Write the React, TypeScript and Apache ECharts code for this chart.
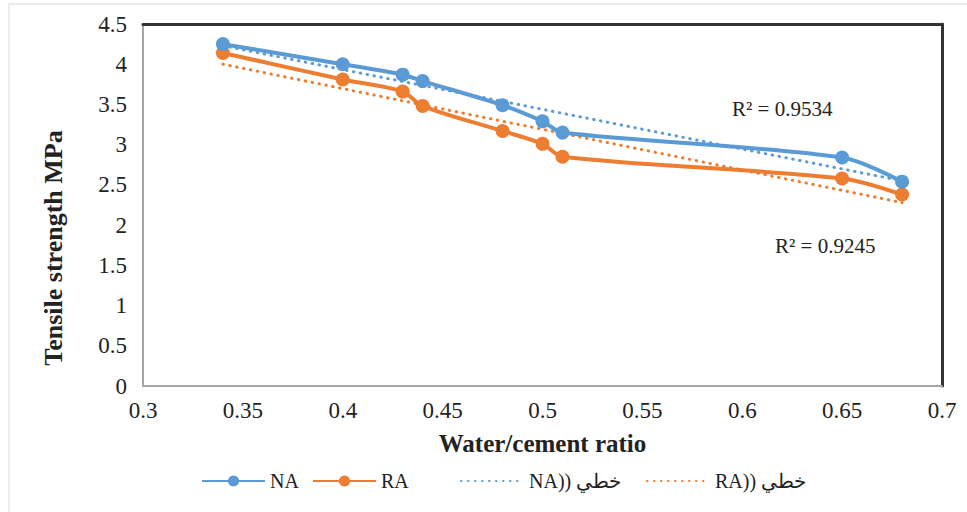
import React, { useEffect, useRef } from "react";
import * as echarts from "echarts";

const ratios = [0.34, 0.4, 0.43, 0.44, 0.48, 0.5, 0.51, 0.65, 0.68];
const naValues = [4.25, 4.0, 3.87, 3.79, 3.49, 3.29, 3.15, 2.84, 2.54];
const raValues = [4.14, 3.81, 3.66, 3.48, 3.17, 3.01, 2.85, 2.58, 2.38];
const trendX = [0.34, 0.68];
const naTrend = [4.23, 2.55];
const raTrend = [4.0, 2.28];
const seriesNames = ["NA", "RA", "NA)) خطي", "RA)) خطي"];
const r2Labels = ["R² = 0.9534", "R² = 0.9245"];

const BLUE = "#5B9BD5";
const ORANGE = "#ED7D31";
const FONT = "Liberation Serif";

export default function App() {
  const ref = useRef<HTMLDivElement>(null);
  useEffect(() => {
    if (!ref.current) return;
    const chart = echarts.init(ref.current, undefined, { renderer: "svg" });
    const pairs = (xs: number[], ys: number[]) => xs.map((x, i) => [x, ys[i]]);
    const legendBase = (name: string, left: number, hideSymbol: boolean) => ({
      data: [name],
      left,
      top: 466,
      itemWidth: 63,
      itemHeight: 14,
      itemGap: 5,
      textStyle: { fontFamily: FONT, fontSize: 20, color: "#222" },
      selectedMode: false,
      ...(hideSymbol ? { itemStyle: { opacity: 0 } } : {}),
    });
    chart.setOption({
      animation: false,
      backgroundColor: "#fff",
      textStyle: { fontFamily: FONT },
      grid: { left: 143, right: 25, top: 24, bottom: 126 },
      xAxis: [
        {
          type: "value",
          min: 0.3,
          max: 0.7,
          interval: 0.05,
          axisLine: { show: true, lineStyle: { color: "#a6a6a6", width: 2 } },
          axisTick: { show: false },
          splitLine: { show: false },
          axisLabel: { fontFamily: FONT, fontSize: 23, color: "#222", margin: 13 },
          name: "Water/cement ratio",
          nameLocation: "middle",
          nameGap: 45,
          nameTextStyle: { fontFamily: FONT, fontSize: 25, fontWeight: "bold", color: "#222" },
        },
        {
          type: "value",
          position: "top",
          min: 0.3,
          max: 0.7,
          axisLine: { show: true, onZero: false, lineStyle: { color: "#333", width: 3 } },
          axisTick: { show: false },
          axisLabel: { show: false },
          splitLine: { show: false },
        },
      ],
      yAxis: [
        {
          type: "value",
          min: 0,
          max: 4.5,
          interval: 0.5,
          axisLine: { show: true, lineStyle: { color: "#a6a6a6", width: 2 } },
          axisTick: { show: false },
          splitLine: { show: false },
          axisLabel: { fontFamily: FONT, fontSize: 23, color: "#222", margin: 16 },
        },
        {
          type: "value",
          position: "right",
          min: 0,
          max: 4.5,
          axisLine: { show: true, onZero: false, lineStyle: { color: "#333", width: 3 } },
          axisTick: { show: false },
          axisLabel: { show: false },
          splitLine: { show: false },
        },
      ],
      legend: [
        legendBase(seriesNames[0], 196, false),
        legendBase(seriesNames[1], 307, false),
        legendBase(seriesNames[2], 455, true),
        legendBase(seriesNames[3], 641, true),
      ],
      graphic: [
        {
          type: "rect",
          shape: { x: 9, y: 4, width: 1000, height: 600 },
          style: { fill: "none", stroke: "#d9d9d9", lineWidth: 1 },
          silent: true,
          z: -10,
        },
        {
          type: "text",
          x: 53,
          y: 248,
          rotation: Math.PI / 2,
          style: {
            text: "Tensile strength MPa",
            fontFamily: FONT,
            fontSize: 26,
            fontWeight: "bold",
            fill: "#222",
            align: "center",
            verticalAlign: "middle",
          },
        },
        {
          type: "text",
          x: 732,
          y: 109,
          style: { text: r2Labels[0], fontFamily: FONT, fontSize: 21, fill: "#222", verticalAlign: "middle" },
        },
        {
          type: "text",
          x: 775,
          y: 246,
          style: { text: r2Labels[1], fontFamily: FONT, fontSize: 21, fill: "#222", verticalAlign: "middle" },
        },
      ],
      series: [
        {
          name: seriesNames[2],
          type: "line",
          data: pairs(trendX, naTrend),
          symbol: "none",
          color: BLUE,
          lineStyle: { color: BLUE, width: 3, type: [0.5, 6.5], cap: "round" },
          z: 1,
        },
        {
          name: seriesNames[3],
          type: "line",
          data: pairs(trendX, raTrend),
          symbol: "none",
          color: ORANGE,
          lineStyle: { color: ORANGE, width: 3, type: [0.5, 6.5], cap: "round" },
          z: 1,
        },
        {
          name: seriesNames[0],
          type: "line",
          data: pairs(ratios, naValues),
          smooth: 0.3,
          symbol: "circle",
          symbolSize: 14,
          color: BLUE,
          lineStyle: { color: BLUE, width: 4 },
          itemStyle: { color: BLUE },
          z: 3,
        },
        {
          name: seriesNames[1],
          type: "line",
          data: pairs(ratios, raValues),
          smooth: 0.3,
          symbol: "circle",
          symbolSize: 14,
          color: ORANGE,
          lineStyle: { color: ORANGE, width: 4 },
          itemStyle: { color: ORANGE },
          z: 2,
        },
      ],
    });
    return () => chart.dispose();
  }, []);
  return (
    <div
      ref={ref}
      style={{ position: "fixed", left: 0, top: 0, width: 967, height: 512 }}
    />
  );
}
